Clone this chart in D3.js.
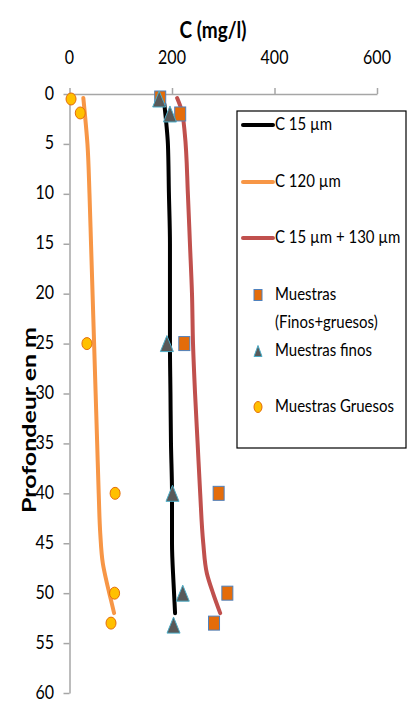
<!DOCTYPE html>
<html>
<head>
<meta charset="utf-8">
<script src="https://cdn.jsdelivr.net/npm/d3@7"></script>
<style>
  body { margin: 0; background: #fff; }
  svg { display: block; font-family: Lato, "Open Sans", sans-serif; }
</style>
</head>
<body>
<svg id="chart" width="415" height="707"></svg>
<script>
// Axis ticks
const xTicks = [0, 200, 400, 600];
const yTicks = [0, 5, 10, 15, 20, 25, 30, 35, 40, 45, 50, 55, 60];

// Model curves: [concentration mg/l, depth m]
const c15 = [[185, 1], [189, 3], [192, 5], [194, 10], [196, 15], [196, 20], [196, 25],
             [197, 30], [198, 35], [200, 40], [200, 45], [203, 49], [206, 52]];
const c120 = [[27, 0.4], [30, 2], [35, 5], [39, 10], [42, 15], [45, 20], [48, 25],
              [51, 30], [54, 35], [57, 40], [60, 44], [65, 47], [73, 49], [81, 50.7], [87, 52]];
const c15_130 = [[210, 0.4], [218, 1.5], [225, 4], [231, 10], [235, 15], [239, 20], [241, 25],
                 [245, 30], [250, 35], [255, 40], [261, 45], [268, 48], [280, 50], [294, 52]];

// Samples
const muestras = [[177, 0.4], [216, 2], [224, 25], [291, 40], [308, 50], [282, 53]];
const finos = [[175, 0.5], [196, 2], [190, 25], [201, 40], [221, 50], [203, 53.2]];
const gruesos = [[3, 0.5], [21, 1.9], [34, 25], [89, 40], [88, 50], [81, 53]];

const svg = d3.select("#chart");
const x = d3.scaleLinear().domain([0, 600]).range([69.5, 377]);
const y = d3.scaleLinear().domain([0, 60]).range([94, 693]);
const axisColor = "#a6a6a6";
const sy = 1.2; // vertical stretch of the text in the picture

// Title
svg.append("text")
  .attr("transform", `translate(213,38) scale(1,${sy})`)
  .attr("text-anchor", "middle")
  .attr("font-size", 19).attr("font-weight", "bold")
  .text("C (mg/l)");

// X axis (top)
const gx = svg.append("g").attr("transform", `translate(0,${y(0)})`)
  .call(d3.axisTop(x).tickValues(xTicks).tickSize(6).tickSizeOuter(0).tickFormat(""));
gx.select(".domain").attr("stroke", axisColor).attr("stroke-width", 1.5);
gx.selectAll(".tick line").attr("stroke", axisColor).attr("stroke-width", 1.5);

svg.selectAll(".xlab").data(xTicks).join("text")
  .attr("class", "xlab")
  .attr("transform", d => `translate(${x(d)},64) scale(1,${sy})`)
  .attr("text-anchor", "middle").attr("font-size", 16)
  .text(d => d);

// Y axis (left)
const gy = svg.append("g").attr("transform", `translate(${x(0)},0)`)
  .call(d3.axisLeft(y).tickValues(yTicks).tickSize(6).tickSizeOuter(0).tickFormat(""));
gy.select(".domain").attr("stroke", axisColor).attr("stroke-width", 1.5);
gy.selectAll(".tick line").attr("stroke", axisColor).attr("stroke-width", 1.5);

svg.selectAll(".ylab").data(yTicks).join("text")
  .attr("class", "ylab")
  .attr("transform", d => `translate(54,${y(d) + 5.5}) scale(1,${sy})`)
  .attr("text-anchor", "end").attr("font-size", 16)
  .text(d => d);

svg.append("text")
  .attr("transform", "translate(36,420) rotate(-90)")
  .attr("text-anchor", "middle")
  .attr("font-size", 19).attr("font-weight", "bold")
  .attr("textLength", 186).attr("lengthAdjust", "spacingAndGlyphs")
  .text("Profondeur en m");

// Curves
const line = d3.line().x(d => x(d[0])).y(d => y(d[1])).curve(d3.curveMonotoneY);
const curves = [
  { data: c120, color: "#f79646" },
  { data: c15, color: "#000000" },
  { data: c15_130, color: "#c0504d" }
];
svg.selectAll(".curve").data(curves).join("path")
  .attr("class", "curve")
  .attr("d", d => line(d.data))
  .attr("fill", "none").attr("stroke", d => d.color)
  .attr("stroke-width", 4).attr("stroke-linecap", "round");

// Markers
function square(g, w, h) {
  g.append("rect").attr("x", -w / 2).attr("y", -h / 2).attr("width", w).attr("height", h)
    .attr("fill", "#e46c0a").attr("stroke", "#4f81bd").attr("stroke-width", 1);
}
function triangle(g, w, h) {
  g.append("path").attr("d", `M0,${-h / 2}L${w / 2},${h / 2}L${-w / 2},${h / 2}Z`)
    .attr("fill", "#595959").attr("stroke", "#4bacc6").attr("stroke-width", 1);
}
function circle(g, w, h) {
  g.append("ellipse").attr("rx", w / 2).attr("ry", h / 2)
    .attr("fill", "#ffc000").attr("stroke", "#e46c0a").attr("stroke-width", 1);
}

svg.selectAll(".gr").data(gruesos).join("g").attr("class", "gr")
  .attr("transform", d => `translate(${x(d[0])},${y(d[1])})`)
  .each(function () { circle(d3.select(this), 10, 12); });
svg.selectAll(".mu").data(muestras).join("g").attr("class", "mu")
  .attr("transform", d => `translate(${x(d[0])},${y(d[1])})`)
  .each(function () { square(d3.select(this), 11, 14); });
svg.selectAll(".fi").data(finos).join("g").attr("class", "fi")
  .attr("transform", d => `translate(${x(d[0])},${y(d[1])})`)
  .each(function () { triangle(d3.select(this), 13, 16); });

// Legend
svg.append("rect").attr("x", 237).attr("y", 111).attr("width", 169).attr("height", 337)
  .attr("fill", "#fff").attr("stroke", "#000").attr("stroke-width", 1.2);

const legendLines = [
  { label: "C 15 µm", color: "#000000", y: 125 },
  { label: "C 120 µm", color: "#f79646", y: 182 },
  { label: "C 15 µm + 130 µm", color: "#c0504d", y: 238 }
];
legendLines.forEach(d => {
  svg.append("line").attr("x1", 243).attr("x2", 273).attr("y1", d.y).attr("y2", d.y)
    .attr("stroke", d.color).attr("stroke-width", 4).attr("stroke-linecap", "round");
  svg.append("text").attr("transform", `translate(275,${d.y + 5}) scale(1,${sy})`)
    .attr("font-size", 15).text(d.label);
});

const legendMarks = [
  { lines: ["Muestras", "(Finos+gruesos)"], draw: square, y: 295 },
  { lines: ["Muestras finos"], draw: triangle, y: 351 },
  { lines: ["Muestras Gruesos"], draw: circle, y: 407 }
];
legendMarks.forEach(d => {
  const g = svg.append("g").attr("transform", `translate(258,${d.y})`);
  d.draw(g, 8, 11);
  d.lines.forEach((t, i) => {
    svg.append("text").attr("transform", `translate(275,${d.y + 5 + i * 28}) scale(1,${sy})`)
      .attr("font-size", 15).text(t);
  });
});
</script>
</body>
</html>
